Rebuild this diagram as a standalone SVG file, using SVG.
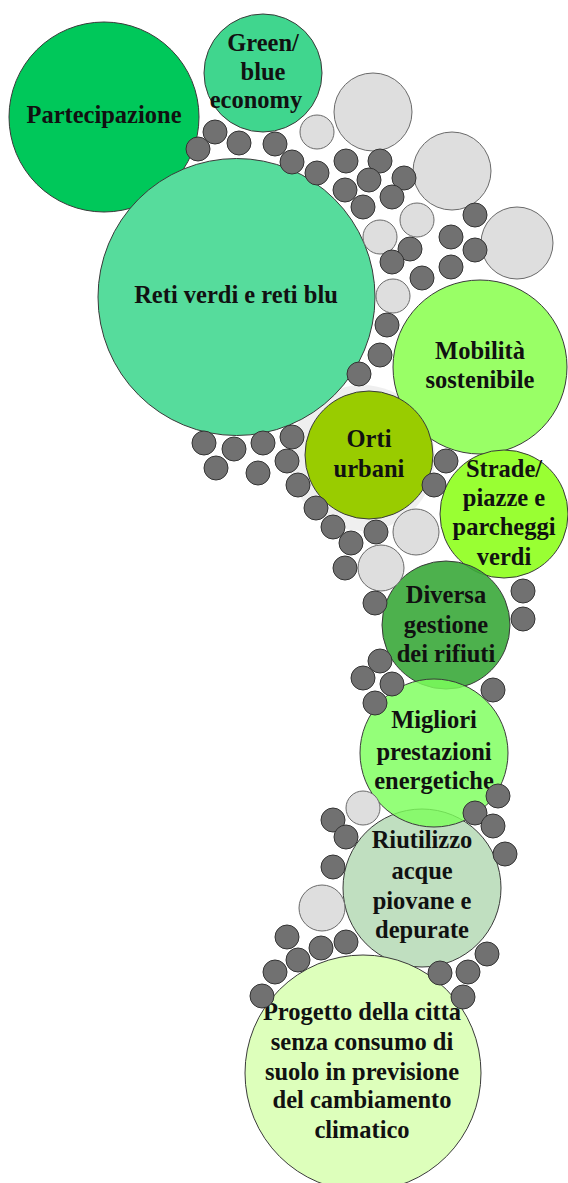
<svg xmlns="http://www.w3.org/2000/svg" width="568" height="1183" viewBox="0 0 568 1183">
<style>
.big{stroke:#3a3a3a;stroke-width:1}
.lbl{font-family:"Liberation Serif","Times New Roman",serif;font-weight:bold;font-size:24.5px;fill:#111;text-anchor:middle}
.d{fill:#717171;stroke:#333;stroke-width:1}
.g{fill:#dedede;stroke:#6a6a6a;stroke-width:1}
</style>
<rect width="568" height="1183" fill="#fff"/>
<circle cx="362" cy="458" r="73" fill="#efefef"/>
<g id="partecipazione"><circle class="big" cx="104" cy="117" r="95" fill="#00c85a"/><text class="lbl" x="104" y="123">Partecipazione</text></g>
<g id="green-blue"><circle class="big" cx="263" cy="73" r="59" fill="#40d68e"/><text class="lbl"><tspan x="263" y="51">Green/</tspan><tspan x="263" y="80">blue</tspan><tspan x="256" y="108">economy</tspan></text></g>
<g id="reti"><circle class="big" cx="236.5" cy="297" r="138.5" fill="#56dc9c"/><text class="lbl" x="236" y="303">Reti verdi e reti blu</text></g>
<g id="mobilita"><circle class="big" cx="480" cy="367" r="87" fill="#99ff66"/><text class="lbl"><tspan x="480" y="359">Mobilità</tspan><tspan x="480" y="388">sostenibile</tspan></text></g>
<g id="strade"><circle class="big" cx="504" cy="514" r="64" fill="#99ff33"/><text class="lbl"><tspan x="504" y="477">Strade/</tspan><tspan x="504" y="506">piazze e</tspan><tspan x="504" y="535">parcheggi</tspan><tspan x="504" y="565">verdi</tspan></text></g>
<g id="orti"><circle class="big" cx="369" cy="455" r="64" fill="#99cc00"/><text class="lbl"><tspan x="369" y="447">Orti</tspan><tspan x="369" y="477">urbani</tspan></text></g>
<g id="riutilizzo"><circle class="big" cx="422" cy="888" r="79" fill="#c0dfc0"/><text class="lbl"><tspan x="422" y="848">Riutilizzo</tspan><tspan x="422" y="879">acque</tspan><tspan x="422" y="909">piovane e</tspan><tspan x="422" y="938">depurate</tspan></text></g>
<g id="diversa"><circle class="big" cx="446" cy="625" r="64" fill="#3aa83a" fill-opacity="0.9"/><text class="lbl"><tspan x="446" y="603">Diversa</tspan><tspan x="446" y="633">gestione</tspan><tspan x="446" y="662">dei rifiuti</tspan></text></g>
<g id="migliori"><circle class="big" cx="434" cy="753" r="74" fill="#7dff5c" fill-opacity="0.82"/><text class="lbl"><tspan x="434" y="728">Migliori</tspan><tspan x="434" y="760">prestazioni</tspan><tspan x="434" y="789">energetiche</tspan></text></g>
<g id="progetto"><circle class="big" cx="363" cy="1073" r="118" fill="#ddffbb"/><text class="lbl"><tspan x="362" y="1020">Progetto della citta</tspan><tspan x="362" y="1050">senza consumo di</tspan><tspan x="362" y="1080">suolo in previsione</tspan><tspan x="362" y="1108">del cambiamento</tspan><tspan x="362" y="1138">climatico</tspan></text></g>
<g id="light-circles">
<circle class="g" cx="317" cy="132" r="17"/>
<circle class="g" cx="373" cy="112" r="39"/>
<circle class="g" cx="452" cy="171" r="39"/>
<circle class="g" cx="517" cy="243" r="36"/>
<circle class="g" cx="417" cy="220" r="17"/>
<circle class="g" cx="380" cy="237" r="17"/>
<circle class="g" cx="393" cy="296" r="17"/>
<circle class="g" cx="416" cy="532" r="23"/>
<circle class="g" cx="381" cy="568" r="23"/>
<circle class="g" cx="363" cy="808" r="17"/>
<circle class="g" cx="322" cy="908" r="23"/>
</g>
<g id="dark-circles">
<circle class="d" cx="198" cy="149" r="12"/>
<circle class="d" cx="215" cy="132" r="12"/>
<circle class="d" cx="239" cy="143" r="12"/>
<circle class="d" cx="275" cy="144" r="12"/>
<circle class="d" cx="292" cy="162" r="12"/>
<circle class="d" cx="317" cy="173" r="12"/>
<circle class="d" cx="346" cy="161" r="12"/>
<circle class="d" cx="380" cy="161" r="12"/>
<circle class="d" cx="369" cy="180" r="12"/>
<circle class="d" cx="404" cy="178" r="12"/>
<circle class="d" cx="345" cy="190" r="12"/>
<circle class="d" cx="392" cy="197" r="12"/>
<circle class="d" cx="363" cy="207" r="12"/>
<circle class="d" cx="475" cy="215" r="12"/>
<circle class="d" cx="451" cy="237" r="12"/>
<circle class="d" cx="475" cy="250" r="12"/>
<circle class="d" cx="410" cy="249" r="12"/>
<circle class="d" cx="392" cy="262" r="12"/>
<circle class="d" cx="451" cy="267" r="12"/>
<circle class="d" cx="422" cy="278" r="12"/>
<circle class="d" cx="387" cy="325" r="12"/>
<circle class="d" cx="380" cy="355" r="12"/>
<circle class="d" cx="359" cy="374" r="12"/>
<circle class="d" cx="204" cy="443" r="12"/>
<circle class="d" cx="234" cy="449" r="12"/>
<circle class="d" cx="263" cy="443" r="12"/>
<circle class="d" cx="292" cy="437" r="12"/>
<circle class="d" cx="216" cy="468" r="12"/>
<circle class="d" cx="258" cy="473" r="12"/>
<circle class="d" cx="287" cy="461" r="12"/>
<circle class="d" cx="298" cy="485" r="12"/>
<circle class="d" cx="316" cy="508" r="12"/>
<circle class="d" cx="333" cy="527" r="12"/>
<circle class="d" cx="351" cy="543" r="12"/>
<circle class="d" cx="345" cy="568" r="12"/>
<circle class="d" cx="376" cy="532" r="12"/>
<circle class="d" cx="446" cy="461" r="12"/>
<circle class="d" cx="434" cy="485" r="12"/>
<circle class="d" cx="375" cy="603" r="12"/>
<circle class="d" cx="523" cy="591" r="12"/>
<circle class="d" cx="523" cy="619" r="12"/>
<circle class="d" cx="380" cy="661" r="12"/>
<circle class="d" cx="363" cy="678" r="12"/>
<circle class="d" cx="392" cy="684" r="12"/>
<circle class="d" cx="375" cy="703" r="12"/>
<circle class="d" cx="493" cy="690" r="12"/>
<circle class="d" cx="498" cy="796" r="12"/>
<circle class="d" cx="475" cy="813" r="12"/>
<circle class="d" cx="493" cy="826" r="12"/>
<circle class="d" cx="505" cy="854" r="12"/>
<circle class="d" cx="333" cy="820" r="12"/>
<circle class="d" cx="346" cy="837" r="12"/>
<circle class="d" cx="333" cy="867" r="12"/>
<circle class="d" cx="287" cy="937" r="12"/>
<circle class="d" cx="298" cy="960" r="12"/>
<circle class="d" cx="321" cy="948" r="12"/>
<circle class="d" cx="346" cy="942" r="12"/>
<circle class="d" cx="275" cy="972" r="12"/>
<circle class="d" cx="262" cy="996" r="12"/>
<circle class="d" cx="440" cy="973" r="12"/>
<circle class="d" cx="468" cy="972" r="12"/>
<circle class="d" cx="487" cy="954" r="12"/>
<circle class="d" cx="463" cy="997" r="12"/>
</g>
</svg>
